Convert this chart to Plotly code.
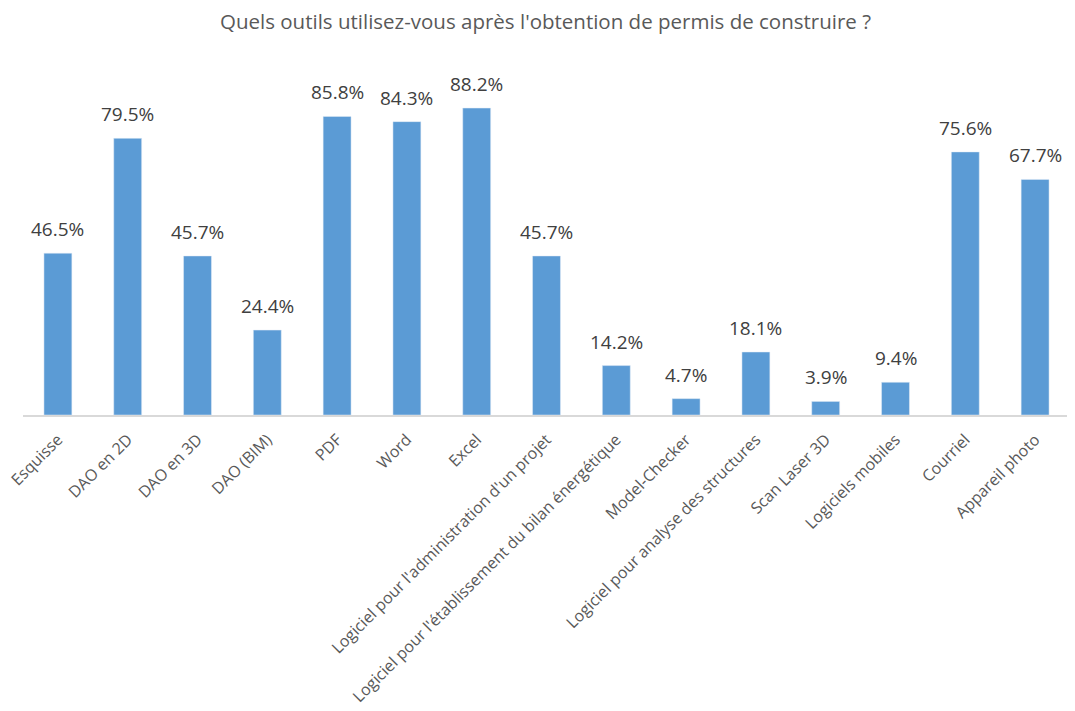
import plotly.graph_objects as go

categories = ["Esquisse", "DAO en 2D", "DAO en 3D", "DAO (BIM)", "PDF", "Word", "Excel",
              "Logiciel pour l'administration d'un projet",
              "Logiciel pour l'établissement du bilan énergétique",
              "Model-Checker", "Logiciel pour analyse des structures", "Scan Laser 3D",
              "Logiciels mobiles", "Courriel", "Appareil photo"]
values = [46.5, 79.5, 45.7, 24.4, 85.8, 84.3, 88.2, 45.7, 14.2, 4.7, 18.1, 3.9, 9.4, 75.6, 67.7]
labels = [f"{v:.1f}%" for v in values]

FONT = "Open Sans, Liberation Sans, sans-serif"

fig = go.Figure(go.Bar(
    x=categories, y=values,
    marker=dict(color="#5B9BD5"), width=0.4, hoverinfo="x+y",
))
for c, v, t in zip(categories, values, labels):
    fig.add_annotation(x=c, y=v, text=t, showarrow=False, xanchor="center", yanchor="bottom",
                       yshift=9, font=dict(size=19, color="#404040", family=FONT))

fig.update_layout(
    width=1075, height=711,
    paper_bgcolor="white", plot_bgcolor="white",
    margin=dict(l=15, r=13, t=59, b=304),
    title=dict(text="Quels outils utilisez-vous après l'obtention de permis de construire ?",
               x=0.5, xanchor="center", y=1 - 14 / 711, yanchor="middle",
               font=dict(size=20.5, color="#595959", family=FONT)),
    showlegend=False,
    font=dict(family=FONT, color="#595959"),
)
fig.update_xaxes(tickangle=-45, showline=True, linecolor="#D9D9D9", linewidth=2,
                 ticks="", tickfont=dict(size=16, color="#595959"), fixedrange=True,
                 automargin=False, ticklabelstandoff=7)
fig.update_yaxes(range=[0, 100], visible=False, showgrid=False, fixedrange=True)
fig.write_html("out.html")
